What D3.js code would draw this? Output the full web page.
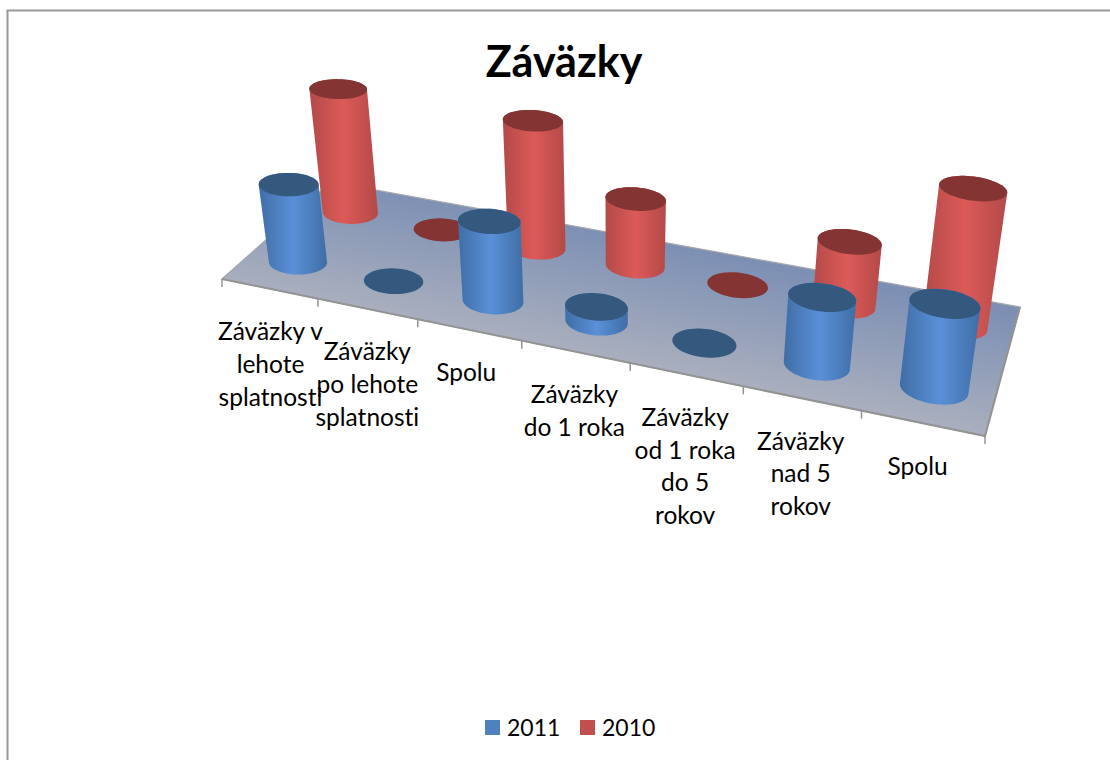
<!DOCTYPE html>
<html><head><meta charset="utf-8">
<style>html,body{margin:0;padding:0;background:#fff}svg{display:block}text{font-family:Lato,"Open Sans",sans-serif;fill:#000;font-variant-ligatures:none}</style>
<script src="https://cdn.jsdelivr.net/npm/d3@7/dist/d3.min.js"></script>
</head><body><svg id="c" width="1110" height="760"></svg>
<script>
const title = "Záväzky";
const categories = ["Záväzky v lehote splatnosti","Záväzky po lehote splatnosti","Spolu A","Záväzky do 1 roka","Záväzky od 1 roka do 5 rokov","Záväzky nad 5 rokov","Spolu B"];
const categoryLines = [["Záväzky v","lehote","splatnosti"],["Záväzky","po lehote","splatnosti"],["Spolu"],["Záväzky","do 1 roka"],["Záväzky","od 1 roka","do 5","rokov"],["Záväzky","nad 5","rokov"],["Spolu"]];
const seriesNames = ["2011","2010"];
const seriesColors = ["#4f81bd","#c0504d"];
const values2011 = [75,0,75,14,0,62,76];
const values2010 = [122,0,122,65,0,60,125];

const svg = d3.select("#c");
const defs = svg.append("defs");

// frame
svg.append("path").attr("d","M7.5,760V10.5H1110").attr("fill","none").attr("stroke","#989898").attr("stroke-width",2);

// camera: floor quad -> unit square homography plus a vertical vanishing point
const quad = [[222,279],[985,436],[1020,307],[331,182]];
function homography(q){
  const [[x0,y0],[x1,y1],[x2,y2],[x3,y3]] = q;
  const dx1=x1-x2,dx2=x3-x2,sx=x0-x1+x2-x3,dy1=y1-y2,dy2=y3-y2,sy=y0-y1+y2-y3;
  const den=dx1*dy2-dx2*dy1, g=(sx*dy2-dx2*sy)/den, h=(dx1*sy-sx*dy1)/den;
  return {a:x1-x0+g*x1,b:x3-x0+h*x3,c:x0,d:y1-y0+g*y1,e:y3-y0+h*y3,f:y0,g,h};
}
const H = homography(quad);
const vanish = [615,2900];
const project = (u,v,q=0)=>{
  const X=H.a*u+H.b*v+H.c+q*vanish[0], Y=H.d*u+H.e*v+H.f+q*vanish[1], W=H.g*u+H.h*v+1+q;
  return [X/W,Y/W];
};

const uScale = d3.scaleBand().domain(d3.range(categories.length)).range([0,1]);
const vScale = d3.scaleBand().domain(seriesNames).range([0,1]);
const hScale = d3.scaleLinear().domain([0,125]).range([0,-0.0485]);
const radiusU = 0.283, radiusV = 0.215;

// floor
const floorGrad = defs.append("linearGradient").attr("id","floor").attr("gradientUnits","userSpaceOnUse")
  .attr("x1",640).attr("y1",240).attr("x2",615).attr("y2",365);
floorGrad.append("stop").attr("offset",0).attr("stop-color","#7d90b4");
floorGrad.append("stop").attr("offset",1).attr("stop-color","#abb0be");
const corner = [[0,0],[1,0],[1,1],[0,1]].map(d=>project(d[0],d[1]));
svg.append("path").attr("d",d3.line()(corner)+"Z").attr("fill","url(#floor)").attr("stroke","#a3a6ac").attr("stroke-width",1.2);
svg.append("path").attr("d",d3.line()([corner[0],corner[1],corner[2]])).attr("fill","none").attr("stroke","#939393").attr("stroke-width",2);

// ticks
svg.append("g").selectAll("line").data(d3.range(categories.length+1)).join("line")
  .each(function(i){const p=project(i/categories.length,0);
    d3.select(this).attr("x1",p[0]).attr("x2",p[0]).attr("y1",p[1]).attr("y2",p[1]+8);})
  .attr("stroke","#939393").attr("stroke-width",1.5);

// columns
function ellipse(cu,cv,q){
  const ru=radiusU*uScale.bandwidth(), rv=radiusV*vScale.bandwidth();
  return d3.range(0,64).map(k=>{const t=k/64*2*Math.PI;
    return project(cu+ru*Math.cos(t),cv+rv*Math.sin(t),q);});
}
const shades = [{edge:"#3f6ea6",mid:"#5a90d8",top:"#35587f"},{edge:"#b34a48",mid:"#dc5a58",top:"#833433"}];
const gCols = svg.append("g");
[[1,values2010],[0,values2011]].forEach(([si,vals])=>{
  vals.forEach((val,i)=>{
    const cu=uScale(i)+uScale.bandwidth()/2, cv=vScale(seriesNames[si])+vScale.bandwidth()/2;
    const q=hScale(val), base=ellipse(cu,cv,0), top=ellipse(cu,cv,q);
    if(val>0){
      const hull=d3.polygonHull(base.concat(top));
      const ex=d3.extent(hull,d=>d[0]);
      const id=`col${si}${i}`;
      const g=defs.append("linearGradient").attr("id",id).attr("gradientUnits","userSpaceOnUse")
        .attr("x1",ex[0]).attr("x2",ex[1]).attr("y1",0).attr("y2",0);
      [[0,shades[si].edge],[.5,shades[si].mid],[1,shades[si].edge]].forEach(s=>g.append("stop").attr("offset",s[0]).attr("stop-color",s[1]));
      gCols.append("path").attr("d",d3.line()(hull)+"Z").attr("fill",`url(#${id})`);
    }
    gCols.append("path").attr("d",d3.line()(top)+"Z").attr("fill",shades[si].top);
  });
});

// category labels
const lineH=32.7;
const labelShift=[1,0,-3,-1,-1,-1,-5];
categoryLines.forEach((lines,i)=>{
  const p=project(uScale(i)+uScale.bandwidth()/2,0);
  const t=svg.append("text").attr("text-anchor","middle").attr("font-size",24.5);
  lines.forEach((l,j)=>t.append("tspan").attr("x",p[0]+labelShift[i]).attr("y",p[1]+51.5+j*lineH).text(l));
});

// title
svg.append("text").attr("x",564).attr("y",77).attr("text-anchor","middle").attr("font-size",43).attr("font-weight",700).text(title);

// legend
const legendX=d3.scaleOrdinal().domain(seriesNames).range([485,580]);
const lg=svg.append("g").selectAll("g").data(seriesNames).join("g").attr("transform",d=>`translate(${legendX(d)},720)`);
lg.append("rect").attr("width",15).attr("height",15).attr("fill",(d,i)=>seriesColors[i]);
lg.append("text").attr("x",22).attr("y",15.5).attr("font-size",23).text(d=>d);
</script></body></html>
